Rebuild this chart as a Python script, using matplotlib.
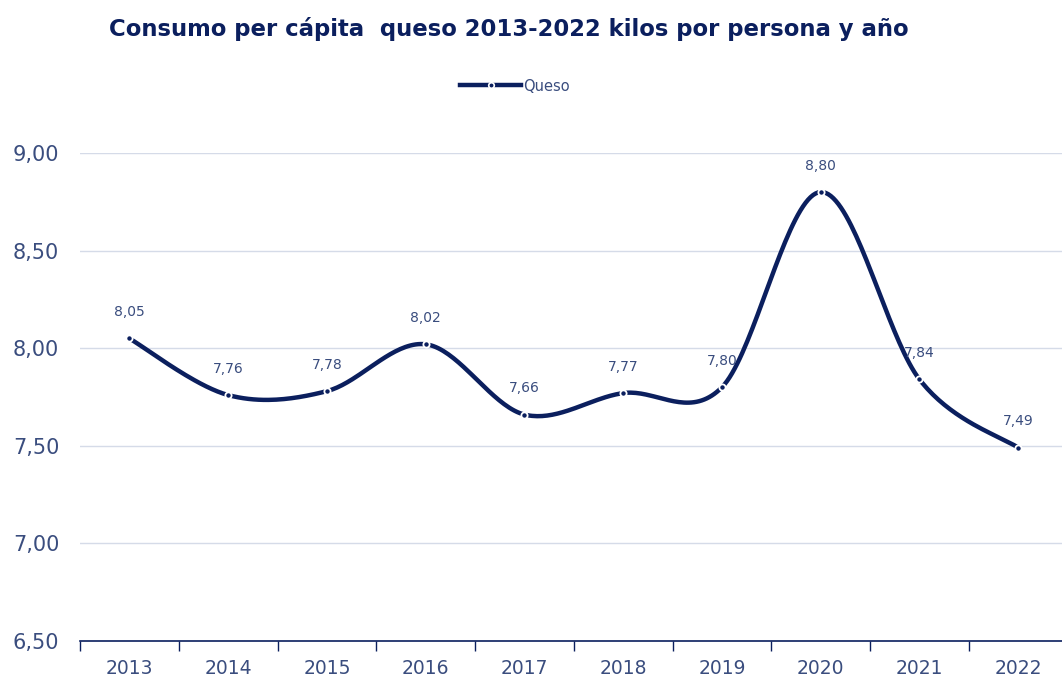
import numpy as np
import matplotlib.pyplot as plt
from matplotlib.lines import Line2D

years = ["2013", "2014", "2015", "2016", "2017", "2018", "2019", "2020", "2021", "2022"]
queso = [8.05, 7.76, 7.78, 8.02, 7.66, 7.77, 7.80, 8.80, 7.84, 7.49]
yticks = [6.5, 7.0, 7.5, 8.0, 8.5, 9.0]

navy = "#0b1f5e"
txt = "#3a4d7e"
grid = "#d5dbe8"


def smooth(x, y, n=40):
    # bezier segments with catmull-rom style control points
    x = np.asarray(x, float)
    y = np.asarray(y, float)
    px = np.concatenate([[x[0]], x, [x[-1]]])
    py = np.concatenate([[y[0]], y, [y[-1]]])
    xs, ys = [], []
    t = np.linspace(0, 1, n)
    for i in range(len(x) - 1):
        p0 = np.array([px[i + 1], py[i + 1]])
        p3 = np.array([px[i + 2], py[i + 2]])
        c1 = p0 + (np.array([px[i + 2], py[i + 2]]) - np.array([px[i], py[i]])) / 6
        c2 = p3 - (np.array([px[i + 3], py[i + 3]]) - np.array([px[i + 1], py[i + 1]])) / 6
        b = ((1 - t) ** 3)[:, None] * p0 + (3 * (1 - t) ** 2 * t)[:, None] * c1 \
            + (3 * (1 - t) * t ** 2)[:, None] * c2 + (t ** 3)[:, None] * p3
        xs.append(b[:, 0])
        ys.append(b[:, 1])
    return np.concatenate(xs), np.concatenate(ys)


fig = plt.figure(figsize=(10.62, 6.83), dpi=100)
ax = fig.add_axes([0.0753, 0.0615, 0.93, 0.7145])

x = np.arange(len(years))
sx, sy = smooth(x, queso)
ax.plot(sx, sy, color=navy, lw=3.2, solid_capstyle="round", zorder=3)
ax.plot(x, queso, "o", ms=4.5, color=navy, mec="white", mew=1.3, zorder=4)

for xi, v in zip(x, queso):
    ax.annotate(f"{v:.2f}".replace(".", ","), (xi, v), xytext=(0, 14),
                textcoords="offset points", ha="center", va="bottom",
                fontsize=10, color=txt)

ax.set_ylim(6.5, 9.0)
ax.set_xlim(-0.5, len(years) - 0.5)
ax.set_yticks(yticks)
ax.set_yticklabels([f"{v:.2f}".replace(".", ",") for v in yticks], fontsize=15, color=txt)
ax.set_xticks(x)
ax.set_xticklabels(years, fontsize=13.5, color=txt)
ax.set_xticks(np.arange(len(years) + 1) - 0.5, minor=True)
ax.tick_params(axis="x", which="major", length=0, pad=13)
ax.tick_params(axis="x", which="minor", length=7, color=navy, width=1)
ax.tick_params(axis="y", length=0, pad=15)
ax.yaxis.grid(True, color=grid, lw=1)
ax.set_axisbelow(True)
for s in ["top", "right", "left"]:
    ax.spines[s].set_visible(False)
ax.spines["bottom"].set_color(navy)
ax.spines["bottom"].set_linewidth(1.2)

fig.text(0.479, 0.958, "Consumo per cápita  queso 2013-2022 kilos por persona y año",
         ha="center", va="center", fontsize=16.4, fontweight="bold", color=navy)

handle = Line2D([], [], color=navy, lw=3.2, marker="o", ms=4, mec="white", mew=1.2)
fig.legend([handle], ["Queso"], loc="center", bbox_to_anchor=(0.485, 0.874),
           frameon=False, fontsize=10.5, handlelength=4.2, handletextpad=0.15,
           labelcolor=txt)

fig.savefig("out.png", dpi=100)
